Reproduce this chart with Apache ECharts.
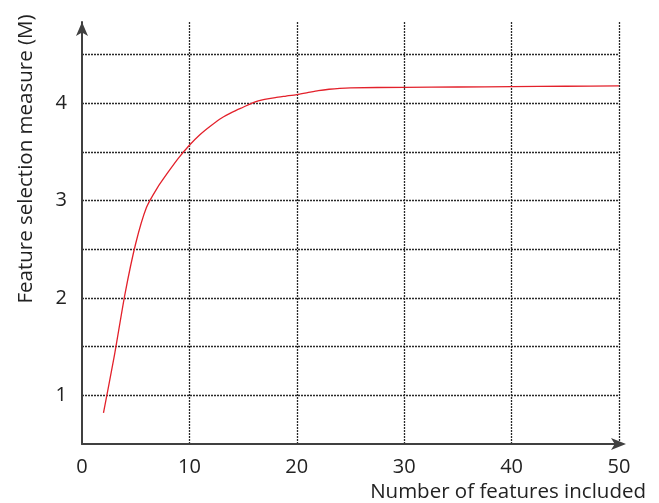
<!DOCTYPE html>
<html><head><meta charset="utf-8">
<script src="https://cdn.jsdelivr.net/npm/echarts@6/dist/echarts.min.js"></script>
<style>html,body{margin:0;padding:0;background:#fff}#c{width:659px;height:503px}</style>
</head><body><div id="c"></div>
<script>
const xValues = [2, 3, 4, 5, 6, 7, 8, 9, 10, 11, 12, 13, 14, 15, 16, 17, 18, 19, 20, 21, 22, 23, 24, 25, 30, 35, 40, 45, 50];
const yValues = [0.82, 1.40, 2.04, 2.56, 2.93, 3.13, 3.29, 3.44, 3.57, 3.68, 3.77, 3.85, 3.91, 3.96, 4.01, 4.04, 4.06, 4.075, 4.09, 4.11, 4.13, 4.145, 4.155, 4.16, 4.165, 4.168, 4.172, 4.176, 4.18];
const xTicks = [0, 10, 20, 30, 40, 50];
const yTicks = [1, 2, 3, 4];
const xTitle = 'Number of features included';
const yTitle = 'Feature selection measure (M)';

const font = "'Open Sans', sans-serif";
const chart = echarts.init(document.getElementById('c'));
chart.setOption({
  animation: false,
  grid: { left: 82, right: 40, top: 22, bottom: 59 },
  xAxis: {
    type: 'value', min: 0, max: 50, interval: 10,
    axisLine: { show: true, lineStyle: { color: '#404040', width: 2 }, symbol: ['none', 'arrow'], symbolSize: [9, 15], symbolOffset: [0, 7] },
    axisTick: { show: false },
    axisLabel: { color: '#222', fontFamily: font, fontSize: 20, margin: 13,
      formatter: v => xTicks.includes(v) ? String(v) : '' },
    splitLine: { show: true, showMinLine: false, lineStyle: { color: '#2a2a2a', type: [2, 1], width: 1.3 } },
    name: xTitle, nameLocation: 'end', nameGap: 27,
    nameTextStyle: { fontFamily: font, fontSize: 20.5, color: '#222', align: 'right', verticalAlign: 'top', padding: [38, 0, 0, 0] }
  },
  yAxis: {
    type: 'value', min: 0.5, max: 4.836, interval: 0.5,
    axisLine: { show: true, lineStyle: { color: '#404040', width: 2 }, symbol: ['none', 'arrow'], symbolSize: [9, 14], symbolOffset: [0, 0] },
    axisTick: { show: false },
    axisLabel: { color: '#222', fontFamily: font, fontSize: 20, margin: 15, showMaxLabel: false,
      formatter: v => yTicks.includes(v) ? String(v) : '' },
    splitLine: { show: true, showMinLine: false, showMaxLine: false, lineStyle: { color: '#2a2a2a', type: [2, 1], width: 1.3 } }
  },
  graphic: [{
    type: 'text', x: 26, y: 159, rotation: Math.PI / 2,
    style: { text: yTitle, fontFamily: font, fontSize: 20.5, fill: '#222', align: 'center', verticalAlign: 'middle' }
  }],
  series: [{
    type: 'line', data: xValues.map((x, i) => [x, yValues[i]]),
    showSymbol: false, smooth: 0.2,
    lineStyle: { color: '#e3212b', width: 1.3 }
  }]
});
</script></body></html>
